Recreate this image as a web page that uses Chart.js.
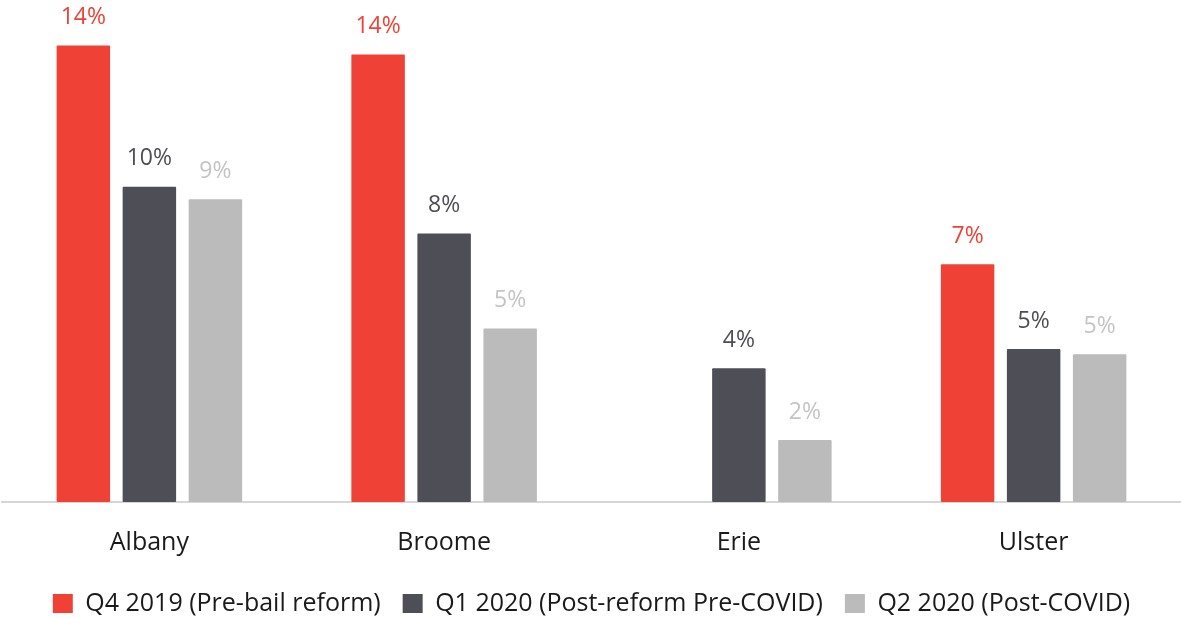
<!DOCTYPE html>
<html>
<head>
<meta charset="utf-8">
<script src="https://cdn.jsdelivr.net/npm/chart.js@4"></script>
<style>
  html, body { margin: 0; padding: 0; background: #fff; }
  #wrap { width: 1181px; height: 618px; }
</style>
</head>
<body>
<div id="wrap"><canvas id="jailChart"></canvas></div>
<script>
// Counties and share of population per quarter (%)
const counties = ['Albany', 'Broome', 'Erie', 'Ulster'];
const seriesNames = ['Q4 2019 (Pre-bail reform)', 'Q1 2020 (Post-reform Pre-COVID)', 'Q2 2020 (Post-COVID)'];
const q4_2019 = [14.0, 13.73, null, 7.29];
const q1_2020 = [9.67, 8.24, 4.10, 4.69];
const q2_2020 = [9.29, 5.32, 1.90, 4.53];

const colors = {
    q4: '#ef4136',
    q1: '#4e4e56',
    q2: '#bbbbbb',
    q2Label: '#c4c4c4',
    axis: '#d6d6d6',
    text: '#1a1a1a'
};

const fontFamily = "'Open Sans', 'Noto Sans', sans-serif";

// Draw the percentage above each bar, in the bar's own colour
const valueLabels = {
    id: 'valueLabels',
    afterDatasetsDraw(chart) {
        const ctx = chart.ctx;
        ctx.save();
        ctx.font = '23px ' + fontFamily;
        ctx.textAlign = 'center';
        ctx.textBaseline = 'middle';
        chart.data.datasets.forEach((ds, i) => {
            const meta = chart.getDatasetMeta(i);
            meta.data.forEach((bar, j) => {
                const v = ds.data[j];
                if (v === null || v === undefined) return;
                ctx.fillStyle = ds.labelColor;
                ctx.fillText(Math.round(v) + '%', bar.x, bar.y - 28);
            });
        });
        ctx.restore();
    }
};

function createChart() {
    Chart.defaults.font.family = fontFamily;
    Chart.defaults.color = colors.text;

    const ctx = document.getElementById('jailChart').getContext('2d');
    new Chart(ctx, {
        type: 'bar',
        data: {
            labels: counties,
            datasets: [{
                label: seriesNames[0],
                data: q4_2019,
                backgroundColor: colors.q4,
                labelColor: colors.q4
            }, {
                label: seriesNames[1],
                data: q1_2020,
                backgroundColor: colors.q1,
                labelColor: colors.q1
            }, {
                label: seriesNames[2],
                data: q2_2020,
                backgroundColor: colors.q2,
                labelColor: colors.q2Label
            }]
        },
        options: {
            responsive: true,
            maintainAspectRatio: false,
            animation: false,
            categoryPercentage: 0.672,
            barPercentage: 0.81,
            borderRadius: 1,
            borderSkipped: false,
            layout: {
                padding: { top: 13, left: 2, right: 0, bottom: -8 }
            },
            plugins: {
                legend: {
                    position: 'bottom',
                    labels: {
                        boxWidth: 20,
                        boxHeight: 19,
                        padding: 22,
                        font: { size: 25 },
                        color: colors.text
                    }
                },
                tooltip: { enabled: false }
            },
            scales: {
                x: {
                    grid: { display: false, drawTicks: false },
                    border: { display: true, color: colors.axis, width: 2 },
                    ticks: {
                        padding: 26,
                        font: { size: 25 },
                        color: colors.text
                    },
                    // tighten the gap between the county names and the legend
                    afterFit(scale) {
                        scale.height -= 15;
                    }
                },
                y: {
                    display: false,
                    min: 0,
                    max: 15
                }
            }
        },
        plugins: [valueLabels]
    });
}

createChart();
</script>
</body>
</html>
